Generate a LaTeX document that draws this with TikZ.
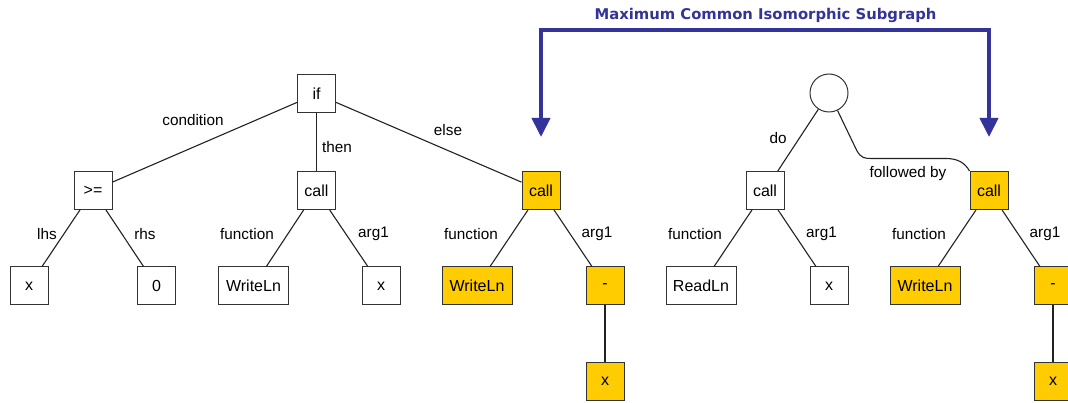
\documentclass[tikz,border=0pt]{standalone}
\usepackage{fontspec}
\setmainfont{Liberation Sans}
\newfontfamily\titlefont{DejaVu Sans}
\usetikzlibrary{arrows.meta}
\definecolor{hilite}{HTML}{FFCC00}
\definecolor{boxline}{HTML}{333333}
\definecolor{edgeline}{HTML}{222222}
\definecolor{mcsblue}{HTML}{333399}
\begin{document}
\begin{tikzpicture}[x=1pt,y=-1pt,
  box/.style={draw=boxline, line width=1pt, fill=white, minimum width=38pt, minimum height=38pt,
              inner sep=0pt, font=\fontsize{16}{16}\selectfont},
  wide/.style={box, minimum width=70pt},
  hl/.style={fill=hilite},
  roundnode/.style={draw=boxline, line width=1pt, fill=white, circle, minimum size=38pt, inner sep=0pt},
  edge/.style={draw=edgeline, line width=1.1pt},
  lbl/.style={font=\fontsize{15.3}{15.3}\selectfont, inner sep=0pt, anchor=center},
  mcs/.style={draw=mcsblue, line width=4pt, line join=miter,
              {Triangle[width=18pt,length=19pt]}-{Triangle[width=18pt,length=19pt]}}
]
\useasboundingbox (0,0) rectangle (1068,403);
\clip (0,0) rectangle (1068,403);

% ---- first tree: if statement ----
\node[box] (if) at (316.5,94) {if};
\node[box] (ge) at (93,190.5) {>=};
\node[box] (call1) at (316.5,190.5) {call};
\node[box,hl] (call2) at (541,190.5) {call};
\node[box] (x1) at (29,286) {x};
\node[box] (zero) at (156.5,286) {0};
\node[wide] (wl1) at (253.5,286) {WriteLn};
\node[box] (x2) at (381,286) {x};
\node[wide,hl] (wl2) at (477,286) {WriteLn};
\node[box,hl] (minus1) at (605,286) {-};
\node[box,hl] (x3) at (605,381.5) {x};

\draw[edge] (if) -- (ge);
\draw[edge] (if) -- (call1);
\draw[edge] (if) -- (call2);
\draw[edge] (ge) -- (x1);
\draw[edge] (ge) -- (zero);
\draw[edge] (call1) -- (wl1);
\draw[edge] (call1) -- (x2);
\draw[edge] (call2) -- (wl2);
\draw[edge] (call2) -- (minus1);
\draw[edge] (minus1) -- (x3);

\node[lbl] (lcond) at (193,120) {condition};
\node[lbl] (lthen) at (337,147) {then};
\node[lbl] (lelse) at (448,130) {else};
\node[lbl] (llhs) at (47,234) {lhs};
\node[lbl] (lrhs) at (145,234) {rhs};
\node[lbl] (lfn1) at (247,234) {function};
\node[lbl] (larg1) at (373.5,234) {arg1};
\node[lbl] (lfn2) at (471,234) {function};
\node[lbl] (larg2) at (597,234) {arg1};

% ---- second tree: sequence ----
\node[roundnode] (seq) at (829,93) {};
\node[box] (call3) at (765,190.5) {call};
\node[box,hl] (call4) at (989,190.5) {call};
\node[wide] (rl) at (701,286) {ReadLn};
\node[box] (x4) at (829,286) {x};
\node[wide,hl] (wl3) at (925,286) {WriteLn};
\node[box,hl] (minus2) at (1053,286) {-};
\node[box,hl] (x5) at (1053,381.5) {x};

\draw[edge] (seq) -- (call3);
\draw[edge] (seq.-64) -- (856.5,150)
  .. controls (861,158.5) and (865,158.5) .. (872,158.5)
  -- (946,158.5)
  .. controls (958,158.5) and (965,163) .. (call4.north west);
\draw[edge] (call3) -- (rl);
\draw[edge] (call3) -- (x4);
\draw[edge] (call4) -- (wl3);
\draw[edge] (call4) -- (minus2);
\draw[edge] (minus2) -- (x5);

\node[lbl] (ldo) at (778,138) {do};
\node[lbl] (lfb) at (908,173.5) {followed by};
\node[lbl] (lfn3) at (695,234) {function};
\node[lbl] (larg3) at (821.5,234) {arg1};
\node[lbl] (lfn4) at (919,234) {function};
\node[lbl] (larg4) at (1045,234) {arg1};

% ---- common subgraph marker ----
\coordinate (topL) at (541,30.3);
\coordinate (topR) at (989,30.3);
\coordinate (tipL) at (541,137);
\coordinate (tipR) at (989,137);
\draw[mcs] (tipL) -- (topL) -- (topR) -- (tipR);
\node[inner sep=0pt, text=mcsblue, font=\titlefont\bfseries\fontsize{14.8}{14.8}\selectfont]
  (title) at (765.5,15) {Maximum Common Isomorphic Subgraph};
\end{tikzpicture}
\end{document}
